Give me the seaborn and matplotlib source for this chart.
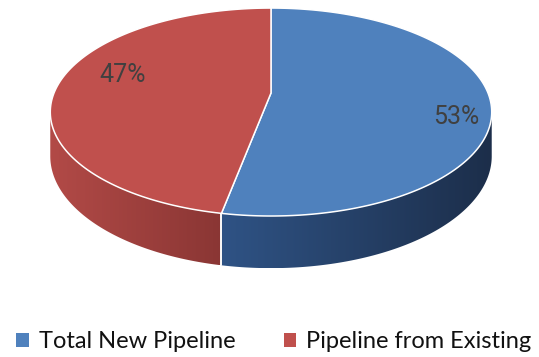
import numpy as np
import matplotlib
matplotlib.use("Agg")
import matplotlib.pyplot as plt
import seaborn as sns
from matplotlib.transforms import Transform
from matplotlib.path import Path
from matplotlib.patches import Polygon, Patch
import matplotlib.colors as mcolors

# --- data -------------------------------------------------------------
categories = ["Total New Pipeline", "Pipeline from Existing"]
shares = [53, 47]
top_colors = ["#4F81BD", "#C0504D"]
# side-wall shading, left end -> right end
wall_colors = [("#2F5385", "#1C2E4A"), ("#B24A47", "#8A3634")]

sns.set_theme(style="white")
plt.rcParams["font.family"] = ["Lato", "DejaVu Sans"]


class TiltedDisc(Transform):
    """Perspective view of a unit disc lying on a table, in pixel data space."""
    input_dims = output_dims = 2
    is_separable = False
    has_inverse = False

    def __init__(self, cx, cy, rx, ry, k, wall):
        super().__init__()
        self.cx, self.cy, self.rx, self.ry, self.k, self.wall = cx, cy, rx, ry, k, wall

    def project(self, u, v, z=0.0):
        w = 1.0 + self.k * v
        x = self.cx + self.rx * u / w
        y = self.cy + (-self.ry * v + self.wall * z) / w
        return x, y

    def transform_non_affine(self, values):
        values = np.asarray(values, dtype=float)
        x, y = self.project(values[:, 0], values[:, 1])
        return np.column_stack([x, y])

    def transform_path_non_affine(self, path):
        pts = []
        for seg, code in path.iter_bezier():
            pts.append(seg(np.linspace(0.0, 1.0, 32)))
        verts = np.vstack(pts)
        verts = np.vstack([verts, verts[:1]])
        return Path(self.transform_non_affine(verts), closed=True)


fig = plt.figure(figsize=(5.39, 3.57), dpi=100)
ax = fig.add_axes([0, 0, 1, 1])

disc = TiltedDisc(cx=271, cy=93, rx=217, ry=100.5, k=0.183, wall=42.6)

wedges, _ = ax.pie(shares, colors=top_colors, startangle=90, counterclock=False,
                   wedgeprops=dict(edgecolor="white", linewidth=1.1))
for w in wedges:
    w.set_transform(disc + ax.transData)
    w.set_zorder(3)

# visible front of the cylinder wall lies between the two silhouette angles
edge = np.degrees(np.arcsin(disc.k))
front = (-180 + edge, -edge)

for w, (c_left, c_right) in zip(wedges, wall_colors):
    for shift in (-360, 0, 360):
        a0 = max(w.theta1 + shift, front[0])
        a1 = min(w.theta2 + shift, front[1])
        if a1 <= a0:
            continue
        t = np.radians(np.linspace(a0, a1, 200))
        u, v = np.cos(t), np.sin(t)
        xt, yt = disc.project(u, v, 0.0)
        xb, yb = disc.project(u, v, 1.0)
        verts = np.column_stack([np.r_[xt, xb[::-1]], np.r_[yt, yb[::-1]]])
        outline = Polygon(verts, closed=True, facecolor="none", edgecolor="none")
        ax.add_patch(outline)
        cmap = mcolors.LinearSegmentedColormap.from_list("wall", [c_left, c_right])
        grad = np.linspace(0, 1, 256)[None, :]
        img = ax.imshow(grad, cmap=cmap, aspect="auto", interpolation="bilinear",
                        extent=[verts[:, 0].min(), verts[:, 0].max(),
                                verts[:, 1].max(), verts[:, 1].min()],
                        zorder=1)
        img.set_clip_path(outline)

# seam between the two slices on the wall
for w in wedges:
    for ang in (w.theta1, w.theta2):
        a = (ang + 180) % 360 - 180
        if front[0] < a < front[1]:
            t = np.radians(a)
            xt, yt = disc.project(np.cos(t), np.sin(t), 0.0)
            xb, yb = disc.project(np.cos(t), np.sin(t), 1.0)
            ax.plot([xt, xb], [yt, yb], color="white", lw=1.1, zorder=2)

# percentage labels
label_pos = [(456, 117), (123, 75)]
for s, (lx, ly) in zip(shares, label_pos):
    ax.text(lx, ly, f"{s}%", ha="center", va="center", fontsize=18,
            color="#404040", family=["Roboto", "DejaVu Sans"], zorder=5)

ax.set_xlim(0, 539)
ax.set_ylim(357, 0)
ax.set_aspect("auto")
ax.axis("off")

handles = [Patch(facecolor=c, edgecolor="none", label=n) for c, n in zip(top_colors, categories)]
fig.legend(handles=handles, loc="center", bbox_to_anchor=(0.508, 0.043), ncol=2,
           frameon=False, fontsize=17, handlelength=0.52, handleheight=0.52,
           handletextpad=0.42, columnspacing=2.05, labelcolor="#111111")

fig.savefig("out.png", dpi=100, facecolor="white")
